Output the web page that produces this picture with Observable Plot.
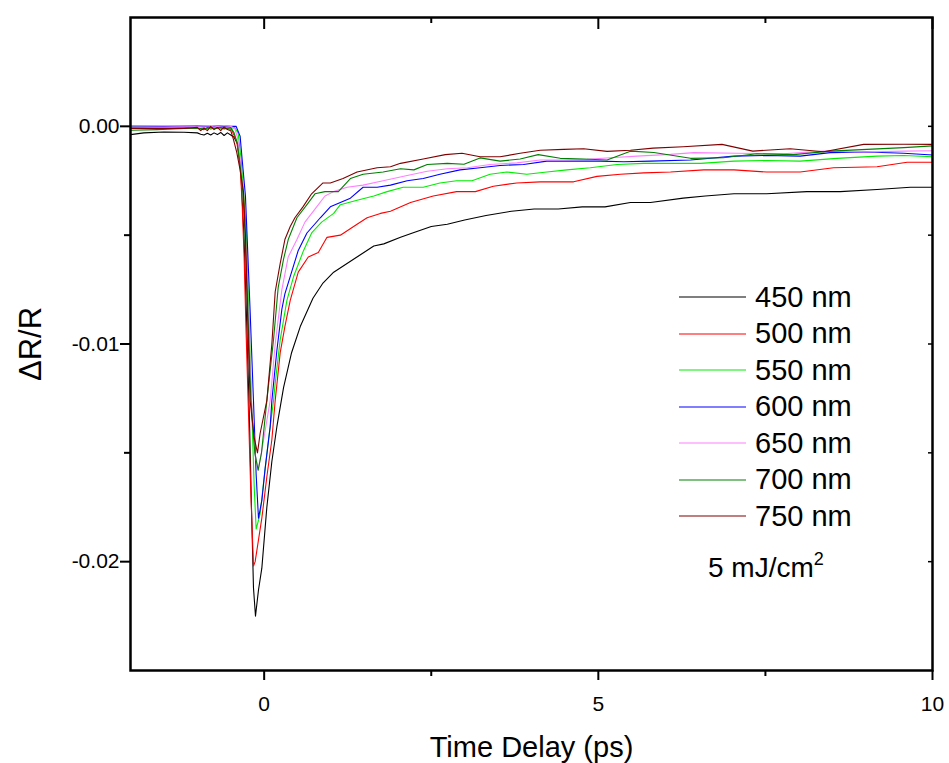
<!DOCTYPE html>
<html>
<head>
<meta charset="utf-8">
<script src="https://cdn.jsdelivr.net/npm/d3@7"></script>
<script src="https://cdn.jsdelivr.net/npm/@observablehq/plot@0.6"></script>
<style>
  html, body { margin: 0; padding: 0; background: #fff; }
  #wrap { position: relative; width: 949px; height: 763px; font-family: "Liberation Sans", Arial, sans-serif; }
  #legend { position: absolute; left: 679px; top: 279px; }
  .row { display: flex; align-items: center; height: 36.5px; }
  .row svg { display: block; }
  .row span { margin-left: 9px; font-size: 29px; color: #000; line-height: 1; }
  #fluence { position: absolute; left: 708px; top: 554px; font-size: 28px; line-height: 28px; color: #000; white-space: nowrap; }
  #fluence sup { font-size: 18px; vertical-align: baseline; position: relative; top: -12px; }
</style>
</head>
<body>
<div id="wrap">
  <div id="chart"></div>
  <div id="legend"></div>
  <div id="fluence">5 mJ/cm<sup>2</sup></div>
</div>
<script>
// ---- data: [time (ps), ΔR/R] ----
const seriesNames = ["450 nm", "500 nm", "550 nm", "600 nm", "650 nm", "700 nm", "750 nm"];
const seriesColors = ["#000000", "#ff0000", "#00ee00", "#0000ff", "#ff80ff", "#008000", "#800000"];

const s450 = [[-2.0,-0.00038],[-1.8,-0.00030],[-1.5,-0.00026],[-1.2,-0.00027],[-1.0,-0.00030],[-0.95,-0.00036],[-0.9,-0.00040],[-0.85,-0.00032],[-0.8,-0.00040],[-0.75,-0.00030],[-0.7,-0.00038],[-0.65,-0.00028],[-0.6,-0.00042],[-0.55,-0.00030],[-0.5,-0.00040],[-0.45,-0.00050],[-0.4,-0.0008],[-0.35,-0.0020],[-0.3,-0.0052],[-0.26,-0.0092],[-0.22,-0.0135],[-0.19,-0.0175],[-0.16,-0.0212],[-0.13,-0.0225],[-0.085,-0.0213],[-0.035,-0.0203],[0.04,-0.0175],[0.115,-0.0154],[0.19,-0.0138],[0.29,-0.0120],[0.41,-0.0104],[0.54,-0.0092],[0.73,-0.0079],[0.88,-0.0072],[1.04,-0.0067],[1.24,-0.0063],[1.44,-0.0059],[1.64,-0.0055],[1.79,-0.0054],[2.04,-0.0051],[2.22,-0.0049],[2.5,-0.0046],[2.74,-0.0045],[3.0,-0.0043],[3.32,-0.0041],[3.7,-0.0039],[4.04,-0.0038],[4.4,-0.0038],[4.76,-0.0037],[5.1,-0.0037],[5.48,-0.0035],[5.78,-0.0035],[6.27,-0.0033],[6.6,-0.0032],[7.03,-0.0031],[7.52,-0.0031],[8.12,-0.0030],[8.62,-0.0030],[9.17,-0.0029],[9.67,-0.0028],[10.0,-0.0028]];

const s500 = [[-2.0,-0.00005],[-1.5,-0.00008],[-1.2,-0.00005],[-1.0,-0.0001],[-0.9,-0.00015],[-0.85,-0.00005],[-0.8,-0.00012],[-0.7,-0.00004],[-0.6,-0.0001],[-0.55,-0.0001],[-0.49,-0.00014],[-0.41,-0.0007],[-0.36,-0.0018],[-0.33,-0.0035],[-0.3,-0.006],[-0.27,-0.0095],[-0.24,-0.0126],[-0.2,-0.0168],[-0.16,-0.0202],[-0.135,-0.0200],[-0.035,-0.0180],[0.04,-0.0161],[0.115,-0.0144],[0.165,-0.0126],[0.24,-0.0104],[0.31,-0.0092],[0.39,-0.0080],[0.51,-0.0067],[0.66,-0.0060],[0.81,-0.0058],[0.94,-0.0051],[1.14,-0.0050],[1.39,-0.0045],[1.54,-0.0042],[1.74,-0.0040],[1.89,-0.0039],[2.19,-0.0035],[2.53,-0.0032],[2.88,-0.0030],[3.16,-0.0030],[3.43,-0.00275],[3.78,-0.0026],[4.13,-0.00255],[4.63,-0.00255],[4.98,-0.0023],[5.33,-0.0022],[5.68,-0.00214],[6.08,-0.0021],[6.58,-0.0020],[7.03,-0.0020],[7.52,-0.0021],[8.02,-0.0021],[8.52,-0.0019],[9.17,-0.00186],[9.62,-0.00165],[10.0,-0.00165]];

const s550 = [[-2.0,-0.00003],[-1.5,-0.00005],[-1.2,-0.00008],[-1.0,-0.0001],[-0.9,-0.00005],[-0.85,-0.00012],[-0.75,-0.00003],[-0.7,-0.0001],[-0.6,-0.00004],[-0.5,-0.00008],[-0.44,-0.00006],[-0.39,-0.0003],[-0.345,-0.0015],[-0.31,-0.003],[-0.27,-0.0047],[-0.23,-0.0085],[-0.19,-0.0126],[-0.15,-0.0165],[-0.12,-0.0185],[-0.06,-0.0178],[-0.01,-0.0164],[0.065,-0.0144],[0.14,-0.0126],[0.165,-0.0118],[0.24,-0.0098],[0.34,-0.0080],[0.44,-0.0069],[0.59,-0.0057],[0.71,-0.0049],[0.86,-0.0044],[1.04,-0.0040],[1.14,-0.0036],[1.39,-0.0034],[1.64,-0.0032],[1.84,-0.0030],[2.08,-0.0028],[2.38,-0.0028],[2.63,-0.0026],[2.88,-0.0025],[3.11,-0.0025],[3.38,-0.0022],[3.63,-0.0021],[3.93,-0.0022],[4.23,-0.0021],[4.53,-0.0020],[4.88,-0.0019],[5.28,-0.00175],[5.68,-0.0017],[6.08,-0.0017],[6.53,-0.0017],[7.03,-0.0016],[7.52,-0.00157],[8.02,-0.0016],[8.57,-0.00147],[9.17,-0.00137],[9.57,-0.00134],[10.0,-0.0014]];

const s600 = [[-2.0,0.00002],[-1.5,0.0],[-1.0,0.00002],[-0.8,0.0],[-0.6,0.00002],[-0.5,0.0],[-0.42,0.0],[-0.36,-0.00045],[-0.33,-0.0015],[-0.28,-0.0032],[-0.26,-0.0047],[-0.21,-0.0085],[-0.16,-0.0126],[-0.12,-0.0160],[-0.085,-0.0180],[-0.035,-0.0172],[0.015,-0.0157],[0.09,-0.0138],[0.115,-0.0126],[0.19,-0.0103],[0.265,-0.0084],[0.31,-0.0077],[0.41,-0.0067],[0.51,-0.0057],[0.64,-0.0049],[0.84,-0.0042],[0.99,-0.0037],[1.14,-0.0035],[1.29,-0.0033],[1.48,-0.0028],[1.69,-0.0028],[1.89,-0.0027],[2.14,-0.0025],[2.38,-0.0024],[2.63,-0.0022],[2.93,-0.0020],[3.23,-0.0019],[3.53,-0.0018],[3.88,-0.00175],[4.23,-0.0016],[4.58,-0.0016],[5.03,-0.0016],[5.38,-0.00163],[5.78,-0.0016],[6.38,-0.00155],[7.03,-0.00137],[7.52,-0.00134],[8.02,-0.00137],[8.47,-0.00121],[9.02,-0.00118],[9.57,-0.00124],[10.0,-0.00132]];

const s650 = [[-2.0,0.00003],[-1.5,0.00002],[-1.0,0.00001],[-0.85,0.00003],[-0.75,-0.00003],[-0.6,0.00004],[-0.5,0.0],[-0.44,-0.0001],[-0.4,-0.0005],[-0.36,-0.0015],[-0.32,-0.003],[-0.28,-0.005],[-0.24,-0.0085],[-0.19,-0.0126],[-0.14,-0.0150],[-0.09,-0.0158],[-0.03,-0.0148],[0.09,-0.0126],[0.165,-0.0100],[0.265,-0.0075],[0.36,-0.0060],[0.49,-0.0052],[0.61,-0.0044],[0.76,-0.0038],[0.91,-0.0032],[1.04,-0.0030],[1.24,-0.0028],[1.48,-0.0027],[1.78,-0.0025],[2.14,-0.00226],[2.44,-0.00206],[2.74,-0.00195],[3.04,-0.0019],[3.38,-0.00175],[3.78,-0.00168],[4.13,-0.00155],[4.48,-0.00155],[4.83,-0.00152],[5.18,-0.00144],[5.58,-0.00137],[6.08,-0.00129],[6.43,-0.00121],[7.08,-0.00124],[7.77,-0.00126],[8.37,-0.00114],[8.97,-0.00118],[9.57,-0.00114],[10.0,-0.00112]];

const s700 = [[-2.0,-0.00018],[-1.6,-0.00015],[-1.2,-0.0001],[-1.0,-0.00008],[-0.9,-0.00012],[-0.8,-0.00004],[-0.75,-0.0001],[-0.65,-0.00005],[-0.6,-0.00012],[-0.5,-0.00006],[-0.45,-0.0003],[-0.4,-0.0008],[-0.36,-0.0018],[-0.32,-0.003],[-0.29,-0.0047],[-0.25,-0.008],[-0.2,-0.0125],[-0.14,-0.0150],[-0.09,-0.0158],[-0.04,-0.0150],[0.04,-0.0126],[0.14,-0.0098],[0.21,-0.0074],[0.29,-0.0061],[0.36,-0.0052],[0.49,-0.0042],[0.64,-0.0036],[0.76,-0.0031],[0.91,-0.0030],[1.11,-0.0030],[1.29,-0.0024],[1.48,-0.0022],[1.78,-0.0021],[2.04,-0.00195],[2.24,-0.0020],[2.44,-0.00175],[2.74,-0.0017],[2.99,-0.00174],[3.23,-0.00145],[3.53,-0.0016],[3.83,-0.0015],[4.10,-0.0013],[4.43,-0.00147],[4.78,-0.0015],[5.13,-0.00155],[5.48,-0.00114],[5.83,-0.0012],[6.38,-0.00147],[6.87,-0.00144],[7.37,-0.00126],[7.92,-0.0013],[8.47,-0.00114],[9.02,-0.00106],[9.57,-0.00098],[10.0,-0.0009]];

const s750 = [[-2.0,-0.0001],[-1.5,-0.0001],[-1.2,-0.0001],[-1.0,-0.00005],[-0.95,-0.0002],[-0.9,-0.00008],[-0.85,-0.0002],[-0.8,0.0],[-0.75,-0.00015],[-0.7,-0.00005],[-0.65,-0.0002],[-0.6,-0.00003],[-0.55,-0.00015],[-0.5,-0.0002],[-0.46,-0.0006],[-0.41,-0.0012],[-0.36,-0.002],[-0.31,-0.003],[-0.28,-0.005],[-0.25,-0.0085],[-0.21,-0.0126],[-0.15,-0.0143],[-0.1,-0.0150],[-0.06,-0.0141],[0.04,-0.0126],[0.115,-0.0100],[0.165,-0.0076],[0.24,-0.0063],[0.31,-0.0052],[0.39,-0.0046],[0.46,-0.0042],[0.58,-0.0037],[0.71,-0.0031],[0.88,-0.0026],[0.99,-0.0026],[1.18,-0.0024],[1.39,-0.0021],[1.69,-0.0019],[1.89,-0.00186],[2.04,-0.0017],[2.38,-0.0015],[2.71,-0.0013],[2.96,-0.00124],[3.23,-0.0014],[3.53,-0.0014],[3.83,-0.00124],[4.13,-0.0011],[4.48,-0.00106],[4.78,-0.00103],[5.13,-0.00115],[5.48,-0.0011],[5.82,-0.001],[6.27,-0.00094],[6.85,-0.00083],[7.31,-0.00114],[7.87,-0.00103],[8.37,-0.00117],[8.97,-0.00083],[9.57,-0.00082],[10.0,-0.00083]];

const seriesData = [s450, s500, s550, s600, s650, s700, s750];

// ticks
const xMajor = [0, 5, 10];
const xMinor = [2.5, 7.5];
const yMajor = [0, -0.01, -0.02];
const yMinor = [-0.005, -0.015];

// ---- build table ----
const rows = [];
seriesData.forEach((arr, i) => arr.forEach(([t, v]) => rows.push({series: seriesNames[i], t, v})));

const W = 949, H = 763, mL = 130, mR = 17, mT = 17, mB = 93;
const fw = W - mL - mR, fh = H - mT - mB;

const chart = Plot.plot({
  width: W,
  height: H,
  marginLeft: mL,
  marginRight: mR,
  marginTop: mT,
  marginBottom: mB,
  style: {fontFamily: "'Liberation Sans', Arial, sans-serif", fontSize: "21px", background: "#fff", color: "#000", overflow: "visible"},
  x: {domain: [-2, 10]},
  y: {domain: [-0.025, 0.005]},
  color: {domain: seriesNames, range: seriesColors},
  marks: [
    Plot.line(rows, {x: "t", y: "v", z: "series", stroke: "series", strokeWidth: 1.1}),
    // bottom ticks (outward)
    Plot.tickX(xMajor, {insetTop: fh, insetBottom: -10, strokeWidth: 2, stroke: "#000"}),
    Plot.tickX(xMinor, {insetTop: fh, insetBottom: -6, strokeWidth: 2, stroke: "#000"}),
    // top ticks (inward)
    Plot.tickX(xMajor, {insetTop: 0, insetBottom: fh - 12, strokeWidth: 2, stroke: "#000"}),
    Plot.tickX(xMinor, {insetTop: 0, insetBottom: fh - 6, strokeWidth: 2, stroke: "#000"}),
    // left ticks (outward)
    Plot.tickY(yMajor, {insetLeft: -10, insetRight: fw, strokeWidth: 2, stroke: "#000"}),
    Plot.tickY(yMinor, {insetLeft: -6, insetRight: fw, strokeWidth: 2, stroke: "#000"}),
    // right ticks (inward, small)
    Plot.tickY(yMajor.concat(yMinor), {insetLeft: fw - 4, insetRight: 0, strokeWidth: 1.5, stroke: "#000"}),
    // tick labels and titles
    Plot.axisX(xMajor, {anchor: "bottom", tickSize: 0, tickPadding: 26, tickFormat: d => String(d), fontSize: 21, label: null}),
    Plot.axisX([], {anchor: "bottom", tickSize: 0, label: "Time Delay (ps)", labelAnchor: "center", labelArrow: "none", labelOffset: 86, fontSize: 29}),
    Plot.axisY(yMajor, {anchor: "left", tickSize: 0, tickPadding: 11, tickFormat: d => d.toFixed(2), fontSize: 21, label: null}),
    Plot.axisY([], {anchor: "left", tickSize: 0, label: "ΔR/R", labelAnchor: "center", labelArrow: "none", labelOffset: 112, fontSize: 31}),
    Plot.frame({stroke: "#000", strokeWidth: 2.5})
  ]
});
document.getElementById("chart").appendChild(chart);

// ---- legend ----
const legend = document.getElementById("legend");
seriesNames.forEach((name, i) => {
  const row = document.createElement("div");
  row.className = "row";
  row.innerHTML = `<svg width="67" height="4"><line x1="0" x2="67" y1="2" y2="2" stroke="${seriesColors[i]}" stroke-width="1.2"/></svg><span>${name}</span>`;
  legend.appendChild(row);
});
</script>
</body>
</html>
